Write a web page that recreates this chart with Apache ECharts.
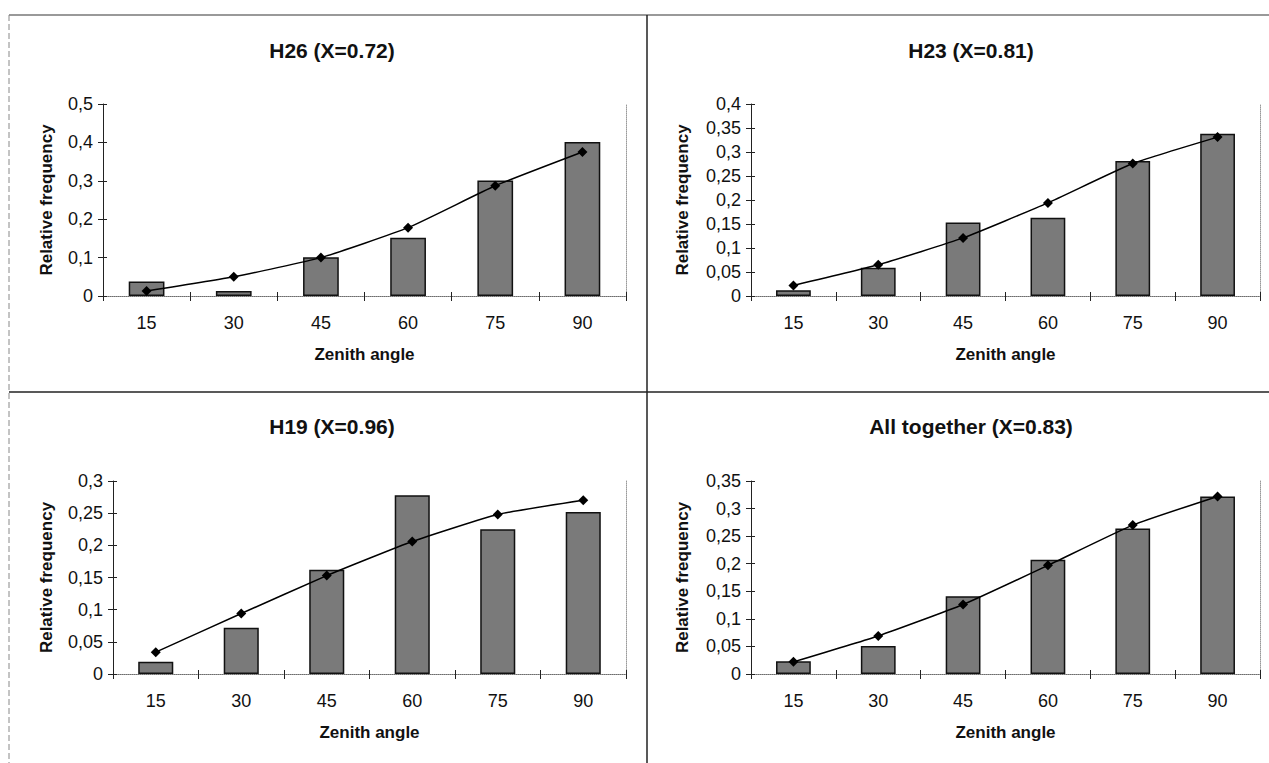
<!DOCTYPE html>
<html lang="en">
<head>
    <meta charset="UTF-8">
    <title>Zenith angle distributions</title>
    <script src="https://cdn.jsdelivr.net/npm/echarts@6/dist/echarts.min.js"></script>
    <style>
        html, body { margin: 0; padding: 0; background: #fff; }
        #main { width: 1269px; height: 763px; }
    </style>
</head>
<body>
<div id="main"></div>
<script type="text/javascript">
    var categories = ['15', '30', '45', '60', '75', '90'];

    var h26Bars = [0.038, 0.013, 0.101, 0.152, 0.301, 0.401];
    var h26Line = [0.013, 0.050, 0.100, 0.178, 0.287, 0.375];
    var h23Bars = [0.012, 0.059, 0.153, 0.163, 0.281, 0.338];
    var h23Line = [0.022, 0.065, 0.121, 0.194, 0.276, 0.331];
    var h19Bars = [0.019, 0.072, 0.162, 0.278, 0.225, 0.252];
    var h19Line = [0.034, 0.094, 0.153, 0.206, 0.248, 0.270];
    var allBars = [0.023, 0.051, 0.141, 0.207, 0.264, 0.322];
    var allLine = [0.022, 0.069, 0.126, 0.197, 0.270, 0.322];

    var titles = ['H26 (X=0.72)', 'H23 (X=0.81)', 'H19 (X=0.96)', 'All together (X=0.83)'];
    var yMax = [0.5, 0.4, 0.3, 0.35];
    var yStep = [0.1, 0.05, 0.05, 0.05];

    var FONT = "'Liberation Sans', Arial, sans-serif";

    // panel layout: grid box, title position, y-name gap
    var panels = [
        {left: 103, top: 104, width: 523, height: 192, tx: 327, ty: 35, gap: 48, bars: h26Bars, line: h26Line},
        {left: 751, top: 104, width: 509, height: 192, tx: 966, ty: 35, gap: 60, bars: h23Bars, line: h23Line},
        {left: 113, top: 481, width: 513, height: 193, tx: 327, ty: 411, gap: 58, bars: h19Bars, line: h19Line},
        {left: 751, top: 481, width: 509, height: 193, tx: 966, ty: 411, gap: 60, bars: allBars, line: allLine}
    ];

    var option = {
        backgroundColor: '#fff',
        animation: false,
        title: [],
        grid: [],
        xAxis: [],
        yAxis: [],
        series: [],
        graphic: [
            {type: 'line', shape: {x1: 9, y1: 15, x2: 1269, y2: 15}, style: {stroke: '#777', lineWidth: 1.5}},
            {type: 'line', shape: {x1: 9, y1: 15, x2: 9, y2: 763}, style: {stroke: '#888', lineWidth: 1, lineDash: [6, 3]}},
            {type: 'line', shape: {x1: 647, y1: 15, x2: 647, y2: 763}, style: {stroke: '#222', lineWidth: 1.5}},
            {type: 'line', shape: {x1: 9, y1: 392, x2: 1269, y2: 392}, style: {stroke: '#222', lineWidth: 1.5}}
        ]
    };

    panels.forEach(function (p, i) {
        option.title.push({
            text: titles[i],
            left: p.tx,
            top: p.ty,
            textAlign: 'center',
            textStyle: {fontFamily: FONT, fontSize: 21, fontWeight: 'bold', color: '#111'}
        });
        option.grid.push({left: p.left, top: p.top, width: p.width, height: p.height, containLabel: false});

        // main category axis (outer half of the cross ticks)
        option.xAxis.push({
            type: 'category',
            gridIndex: i,
            data: categories,
            boundaryGap: true,
            name: 'Zenith angle',
            nameLocation: 'middle',
            nameGap: 50,
            nameTextStyle: {fontFamily: FONT, fontSize: 17, fontWeight: 'bold', color: '#111'},
            axisLine: {lineStyle: {color: '#222', width: 1}},
            axisTick: {show: true, length: 5, lineStyle: {color: '#222'}},
            axisLabel: {fontFamily: FONT, fontSize: 18, color: '#111', margin: 18}
        });
        // dotted top border of plot area
        option.xAxis.push({
            type: 'category',
            gridIndex: i,
            position: 'top',
            data: categories,
            axisLine: {lineStyle: {color: '#999', type: 'dotted', width: 1}},
            axisTick: {show: false},
            axisLabel: {show: false}
        });
        // inner half of the cross ticks
        option.xAxis.push({
            type: 'category',
            gridIndex: i,
            position: 'bottom',
            data: categories,
            axisLine: {show: false},
            axisTick: {show: true, inside: true, length: 4, lineStyle: {color: '#222'}},
            axisLabel: {show: false}
        });

        option.yAxis.push({
            type: 'value',
            gridIndex: i,
            min: 0,
            max: yMax[i],
            interval: yStep[i],
            name: 'Relative frequency',
            nameLocation: 'middle',
            nameGap: p.gap,
            nameRotate: 90,
            nameTextStyle: {fontFamily: FONT, fontSize: 17, fontWeight: 'bold', color: '#111'},
            axisLine: {show: true, lineStyle: {color: '#222', width: 1}},
            axisTick: {show: true, length: 5, lineStyle: {color: '#222'}},
            splitLine: {show: false},
            axisLabel: {
                fontFamily: FONT, fontSize: 18, color: '#111', margin: 10,
                formatter: function (v) { return String(+v.toFixed(2)).replace('.', ','); }
            }
        });
        // dotted right border of plot area
        option.yAxis.push({
            type: 'value',
            gridIndex: i,
            position: 'right',
            min: 0,
            max: yMax[i],
            interval: yStep[i],
            axisLine: {show: true, lineStyle: {color: '#999', type: 'dotted', width: 1}},
            axisTick: {show: false},
            axisLabel: {show: false},
            splitLine: {show: false}
        });
        // inner half of the cross ticks
        option.yAxis.push({
            type: 'value',
            gridIndex: i,
            position: 'left',
            min: 0,
            max: yMax[i],
            interval: yStep[i],
            axisLine: {show: false},
            axisTick: {show: true, inside: true, length: 4, lineStyle: {color: '#222'}},
            axisLabel: {show: false},
            splitLine: {show: false}
        });

        option.series.push({
            type: 'bar',
            xAxisIndex: i * 3,
            yAxisIndex: i * 3,
            data: p.bars,
            barWidth: '41%',
            itemStyle: {color: '#7a7a7a', borderColor: '#111', borderWidth: 1.5},
            z: 2
        });
        option.series.push({
            type: 'line',
            xAxisIndex: i * 3,
            yAxisIndex: i * 3,
            data: p.line,
            smooth: 0.15,
            symbol: 'diamond',
            symbolSize: 10,
            itemStyle: {color: '#000'},
            lineStyle: {color: '#000', width: 1.5},
            z: 3
        });
    });

    var myChart = echarts.init(document.getElementById('main'), null, {renderer: 'svg'});
    myChart.setOption(option);
</script>
</body>
</html>
